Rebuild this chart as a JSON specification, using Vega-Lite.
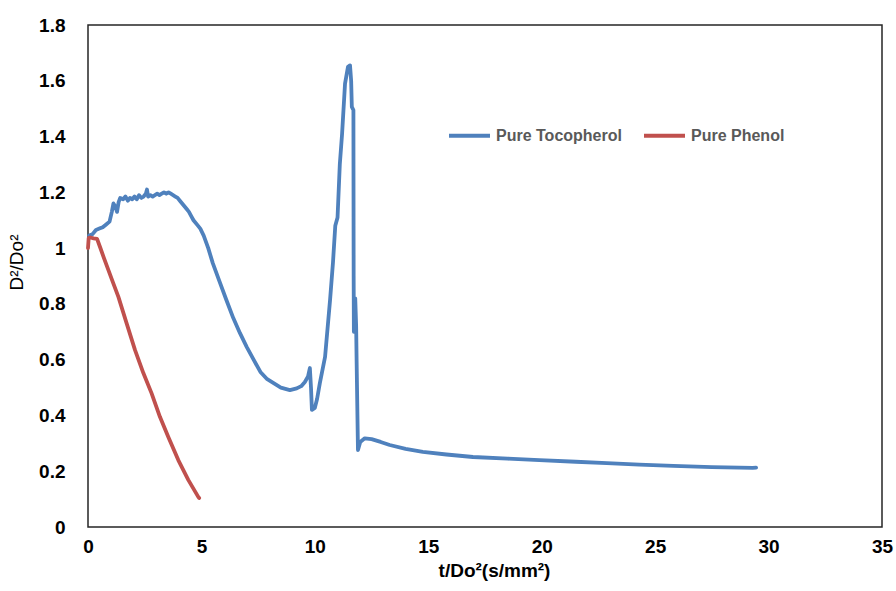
{
  "$schema": "https://vega.github.io/schema/vega-lite/v6.json",
  "width": 794,
  "height": 502,
  "autosize": {"type": "none"},
  "padding": {"left": 88, "top": 25, "right": 14, "bottom": 64},
  "background": "white",
  "config": {
    "view": {"stroke": "#262626", "strokeWidth": 1.5},
    "font": "Liberation Sans"
  },
  "data": {
    "values": [
      {"s": "Pure Tocopherol", "x": 0.05, "y": 1.045},
      {"s": "Pure Tocopherol", "x": 0.2, "y": 1.05},
      {"s": "Pure Tocopherol", "x": 0.35, "y": 1.065},
      {"s": "Pure Tocopherol", "x": 0.5, "y": 1.07},
      {"s": "Pure Tocopherol", "x": 0.65, "y": 1.075},
      {"s": "Pure Tocopherol", "x": 0.8, "y": 1.085},
      {"s": "Pure Tocopherol", "x": 0.95, "y": 1.095},
      {"s": "Pure Tocopherol", "x": 1.05, "y": 1.13},
      {"s": "Pure Tocopherol", "x": 1.12, "y": 1.16},
      {"s": "Pure Tocopherol", "x": 1.2, "y": 1.15},
      {"s": "Pure Tocopherol", "x": 1.28, "y": 1.13},
      {"s": "Pure Tocopherol", "x": 1.35, "y": 1.165},
      {"s": "Pure Tocopherol", "x": 1.42, "y": 1.18},
      {"s": "Pure Tocopherol", "x": 1.55, "y": 1.175},
      {"s": "Pure Tocopherol", "x": 1.65, "y": 1.185},
      {"s": "Pure Tocopherol", "x": 1.76, "y": 1.17},
      {"s": "Pure Tocopherol", "x": 1.85, "y": 1.18},
      {"s": "Pure Tocopherol", "x": 1.95, "y": 1.175},
      {"s": "Pure Tocopherol", "x": 2.05, "y": 1.185},
      {"s": "Pure Tocopherol", "x": 2.15, "y": 1.175},
      {"s": "Pure Tocopherol", "x": 2.25, "y": 1.19},
      {"s": "Pure Tocopherol", "x": 2.35, "y": 1.18},
      {"s": "Pure Tocopherol", "x": 2.45, "y": 1.185},
      {"s": "Pure Tocopherol", "x": 2.55, "y": 1.195},
      {"s": "Pure Tocopherol", "x": 2.6, "y": 1.21},
      {"s": "Pure Tocopherol", "x": 2.65, "y": 1.185},
      {"s": "Pure Tocopherol", "x": 2.75, "y": 1.19},
      {"s": "Pure Tocopherol", "x": 2.85, "y": 1.185},
      {"s": "Pure Tocopherol", "x": 2.95, "y": 1.19},
      {"s": "Pure Tocopherol", "x": 3.05, "y": 1.195},
      {"s": "Pure Tocopherol", "x": 3.15, "y": 1.19},
      {"s": "Pure Tocopherol", "x": 3.25, "y": 1.195},
      {"s": "Pure Tocopherol", "x": 3.35, "y": 1.2},
      {"s": "Pure Tocopherol", "x": 3.45, "y": 1.195},
      {"s": "Pure Tocopherol", "x": 3.55, "y": 1.2},
      {"s": "Pure Tocopherol", "x": 3.65, "y": 1.195},
      {"s": "Pure Tocopherol", "x": 3.75, "y": 1.19},
      {"s": "Pure Tocopherol", "x": 3.85, "y": 1.185},
      {"s": "Pure Tocopherol", "x": 3.95, "y": 1.18},
      {"s": "Pure Tocopherol", "x": 4.05, "y": 1.17},
      {"s": "Pure Tocopherol", "x": 4.15, "y": 1.16},
      {"s": "Pure Tocopherol", "x": 4.25, "y": 1.15},
      {"s": "Pure Tocopherol", "x": 4.35, "y": 1.14},
      {"s": "Pure Tocopherol", "x": 4.45, "y": 1.13},
      {"s": "Pure Tocopherol", "x": 4.55, "y": 1.115},
      {"s": "Pure Tocopherol", "x": 4.65, "y": 1.1},
      {"s": "Pure Tocopherol", "x": 4.8, "y": 1.085},
      {"s": "Pure Tocopherol", "x": 4.95, "y": 1.07},
      {"s": "Pure Tocopherol", "x": 5.1, "y": 1.045},
      {"s": "Pure Tocopherol", "x": 5.3, "y": 1.0},
      {"s": "Pure Tocopherol", "x": 5.5, "y": 0.946},
      {"s": "Pure Tocopherol", "x": 5.8, "y": 0.88},
      {"s": "Pure Tocopherol", "x": 6.1, "y": 0.814},
      {"s": "Pure Tocopherol", "x": 6.4, "y": 0.75},
      {"s": "Pure Tocopherol", "x": 6.7, "y": 0.695},
      {"s": "Pure Tocopherol", "x": 7.0, "y": 0.645},
      {"s": "Pure Tocopherol", "x": 7.3, "y": 0.6},
      {"s": "Pure Tocopherol", "x": 7.6, "y": 0.556},
      {"s": "Pure Tocopherol", "x": 7.9, "y": 0.53},
      {"s": "Pure Tocopherol", "x": 8.2, "y": 0.515},
      {"s": "Pure Tocopherol", "x": 8.5, "y": 0.5},
      {"s": "Pure Tocopherol", "x": 8.9, "y": 0.491},
      {"s": "Pure Tocopherol", "x": 9.2, "y": 0.497},
      {"s": "Pure Tocopherol", "x": 9.4, "y": 0.505},
      {"s": "Pure Tocopherol", "x": 9.56, "y": 0.52},
      {"s": "Pure Tocopherol", "x": 9.7, "y": 0.54},
      {"s": "Pure Tocopherol", "x": 9.78, "y": 0.57},
      {"s": "Pure Tocopherol", "x": 9.83, "y": 0.5},
      {"s": "Pure Tocopherol", "x": 9.87, "y": 0.42},
      {"s": "Pure Tocopherol", "x": 10.0, "y": 0.427},
      {"s": "Pure Tocopherol", "x": 10.1, "y": 0.46},
      {"s": "Pure Tocopherol", "x": 10.22, "y": 0.516},
      {"s": "Pure Tocopherol", "x": 10.45, "y": 0.61},
      {"s": "Pure Tocopherol", "x": 10.67, "y": 0.814},
      {"s": "Pure Tocopherol", "x": 10.8, "y": 0.95},
      {"s": "Pure Tocopherol", "x": 10.9, "y": 1.08},
      {"s": "Pure Tocopherol", "x": 11.0, "y": 1.11},
      {"s": "Pure Tocopherol", "x": 11.1, "y": 1.3},
      {"s": "Pure Tocopherol", "x": 11.2, "y": 1.41},
      {"s": "Pure Tocopherol", "x": 11.33, "y": 1.59},
      {"s": "Pure Tocopherol", "x": 11.46, "y": 1.65},
      {"s": "Pure Tocopherol", "x": 11.55, "y": 1.655},
      {"s": "Pure Tocopherol", "x": 11.6, "y": 1.6},
      {"s": "Pure Tocopherol", "x": 11.63, "y": 1.506},
      {"s": "Pure Tocopherol", "x": 11.7, "y": 1.495},
      {"s": "Pure Tocopherol", "x": 11.71, "y": 0.9},
      {"s": "Pure Tocopherol", "x": 11.72, "y": 0.7},
      {"s": "Pure Tocopherol", "x": 11.78, "y": 0.82},
      {"s": "Pure Tocopherol", "x": 11.82, "y": 0.72},
      {"s": "Pure Tocopherol", "x": 11.84, "y": 0.6},
      {"s": "Pure Tocopherol", "x": 11.9, "y": 0.276},
      {"s": "Pure Tocopherol", "x": 12.0, "y": 0.305},
      {"s": "Pure Tocopherol", "x": 12.2, "y": 0.318},
      {"s": "Pure Tocopherol", "x": 12.5, "y": 0.315},
      {"s": "Pure Tocopherol", "x": 12.9, "y": 0.305},
      {"s": "Pure Tocopherol", "x": 13.3, "y": 0.294},
      {"s": "Pure Tocopherol", "x": 14.0, "y": 0.28},
      {"s": "Pure Tocopherol", "x": 14.76, "y": 0.269},
      {"s": "Pure Tocopherol", "x": 15.8, "y": 0.26},
      {"s": "Pure Tocopherol", "x": 16.97, "y": 0.251},
      {"s": "Pure Tocopherol", "x": 18.5, "y": 0.245},
      {"s": "Pure Tocopherol", "x": 19.9, "y": 0.24},
      {"s": "Pure Tocopherol", "x": 21.5, "y": 0.234},
      {"s": "Pure Tocopherol", "x": 22.87, "y": 0.229},
      {"s": "Pure Tocopherol", "x": 24.3, "y": 0.224},
      {"s": "Pure Tocopherol", "x": 25.8, "y": 0.219},
      {"s": "Pure Tocopherol", "x": 27.5, "y": 0.215},
      {"s": "Pure Tocopherol", "x": 29.3, "y": 0.212},
      {"s": "Pure Tocopherol", "x": 29.45, "y": 0.213},
      {"s": "Pure Phenol", "x": 0.0, "y": 1.0},
      {"s": "Pure Phenol", "x": 0.03, "y": 1.036},
      {"s": "Pure Phenol", "x": 0.1, "y": 1.038},
      {"s": "Pure Phenol", "x": 0.25, "y": 1.035},
      {"s": "Pure Phenol", "x": 0.4, "y": 1.033},
      {"s": "Pure Phenol", "x": 0.53, "y": 1.004},
      {"s": "Pure Phenol", "x": 0.7, "y": 0.965},
      {"s": "Pure Phenol", "x": 0.9, "y": 0.921},
      {"s": "Pure Phenol", "x": 1.1, "y": 0.877},
      {"s": "Pure Phenol", "x": 1.34, "y": 0.825},
      {"s": "Pure Phenol", "x": 1.7, "y": 0.731},
      {"s": "Pure Phenol", "x": 2.07, "y": 0.635},
      {"s": "Pure Phenol", "x": 2.44, "y": 0.552},
      {"s": "Pure Phenol", "x": 2.8, "y": 0.48},
      {"s": "Pure Phenol", "x": 3.17, "y": 0.395},
      {"s": "Pure Phenol", "x": 3.54, "y": 0.323},
      {"s": "Pure Phenol", "x": 3.98, "y": 0.24},
      {"s": "Pure Phenol", "x": 4.42, "y": 0.169},
      {"s": "Pure Phenol", "x": 4.86, "y": 0.108},
      {"s": "Pure Phenol", "x": 4.9, "y": 0.104}
    ]
  },
  "mark": {"type": "line", "strokeWidth": 3.8, "strokeCap": "round", "strokeJoin": "round"},
  "encoding": {
    "x": {
      "field": "x", "type": "quantitative",
      "scale": {"domain": [0, 35], "nice": false, "zero": false},
      "axis": {
        "values": [0, 5, 10, 15, 20, 25, 30, 35],
        "title": "t/Do²(s/mm²)",
        "grid": false, "domain": false, "ticks": false, "tickSize": 0,
        "labelFlush": false, "labelOverlap": false,
        "labelPadding": 10, "labelFont": "Liberation Sans", "labelFontWeight": "bold",
        "labelFontSize": 19, "labelColor": "#000000",
        "titleFont": "Liberation Sans", "titleFontWeight": "bold", "titleFontSize": 19,
        "titleColor": "#000000", "titlePadding": 5, "titleX": 406
      }
    },
    "y": {
      "field": "y", "type": "quantitative",
      "scale": {"domain": [0, 1.8], "nice": false, "zero": false},
      "axis": {
        "values": [0, 0.2, 0.4, 0.6, 0.8, 1, 1.2, 1.4, 1.6, 1.8],
        "format": "~g",
        "title": "D²/Do²",
        "grid": false, "domain": false, "ticks": false, "tickSize": 0,
        "labelFlush": false, "labelOverlap": false,
        "labelPadding": 23, "labelFont": "Liberation Sans", "labelFontWeight": "bold",
        "labelFontSize": 19, "labelColor": "#000000",
        "titleFont": "Liberation Sans", "titleFontWeight": "normal", "titleFontSize": 19,
        "titleColor": "#000000", "titlePadding": 12, "titleY": 237
      }
    },
    "color": {
      "field": "s", "type": "nominal",
      "scale": {"domain": ["Pure Tocopherol", "Pure Phenol"], "range": ["#4F81BD", "#C0504D"]},
      "legend": {
        "title": null, "orient": "none", "direction": "horizontal",
        "legendX": 359, "legendY": 88, "padding": 0,
        "symbolType": "stroke", "symbolSize": 1681, "symbolStrokeWidth": 4,
        "labelFont": "Liberation Sans", "labelFontWeight": "bold", "labelFontSize": 16,
        "labelColor": "#595959", "labelOffset": 4, "columnPadding": 14, "labelLimit": 300
      }
    }
  }
}
